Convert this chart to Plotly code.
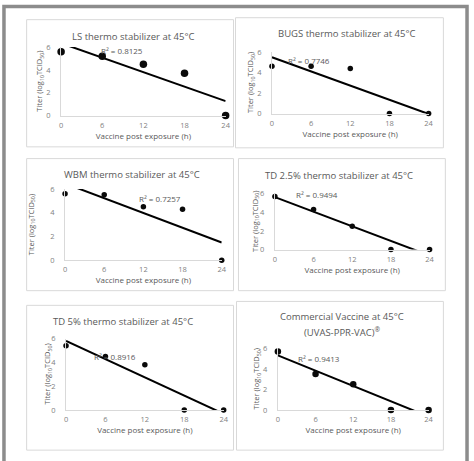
import numpy as np
import plotly.graph_objects as go

W, H = 474, 461

hours = [0, 6, 12, 18, 24]
ls_titer = [5.6, 5.2, 4.5, 3.7, 0.0]
bugs_titer = [4.6, 4.6, 4.4, 0.0, 0.0]
wbm_titer = [5.6, 5.5, 4.5, 4.3, 0.0]
td25_titer = [5.7, 4.3, 2.5, 0.0, 0.0]
td5_titer = [5.4, 4.5, 3.8, 0.0, 0.0]
comm_titer = [5.7, 3.5, 2.5, 0.0, 0.0]

titles = [
    ["LS thermo stabilizer at 45°C"],
    ["BUGS thermo stabilizer at 45°C"],
    ["WBM thermo stabilizer at 45°C"],
    ["TD 2.5% thermo stabilizer at 45°C"],
    ["TD 5% thermo stabilizer at 45°C"],
    ["Commercial Vaccine at 45°C", "(UVAS-PPR-VAC)<sup>®</sup>"],
]
r2_labels = ["R² = 0.8125", "R² = 0.7746", "R² = 0.7257", "R² = 0.9494", "R² = 0.8916", "R² = 0.9413"]
r2_pos = [(8.9, 5.66), (5.7, 5.14), (14.5, 5.18), (6.6, 5.95), (7.5, 4.52), (6.6, 5.05)]
x_ticks = [0, 6, 12, 18, 24]
y_ticks = [0, 2, 4, 6]
series = [ls_titer, bugs_titer, wbm_titer, td25_titer, td5_titer, comm_titer]

# layout geometry in pixels
plot_px = [  # x0, x1, ytop, ybottom
    (60, 227, 43, 113),
    (274, 433, 48, 111),
    (64, 223, 188, 261),
    (277, 434, 193, 250),
    (65, 225, 341, 414),
    (280, 433, 351, 414),
]
boxes = [(25, 15, 235, 145), (237, 13, 448, 146), (25, 157, 235, 292),
         (240, 157, 450, 292), (25, 307, 235, 455), (238, 303, 448, 455)]
title_px = [(133, [32]), (350, [29]), (132, [173]), (342, [174]), (123, [324]), (345, [318, 334])]
ytitle_x = [39, 253, 30, 257, 47, 259]
marker_sizes = [7.5, 5.5, 5.5, 5.5, 5.5, 6.5]

def px(x):
    return x / W

def py(y):
    return 1 - y / H

FONT = "Open Sans"
GRAY = "#595959"

fig = go.Figure()
layout = dict(width=W, height=H, margin=dict(l=0, r=0, t=0, b=0),
              paper_bgcolor="white", plot_bgcolor="white", showlegend=False,
              annotations=[], shapes=[])

for i, ys in enumerate(series):
    n = "" if i == 0 else str(i + 1)
    xa, ya = "x" + n, "y" + n
    m, b = np.polyfit(hours, ys, 1)
    fig.add_trace(go.Scatter(x=[hours[0], hours[-1]], y=[m * hours[0] + b, m * hours[-1] + b],
                             mode="lines", line=dict(color="black", width=2),
                             xaxis=xa, yaxis=ya, hoverinfo="skip"))
    fig.add_trace(go.Scatter(x=hours, y=ys, mode="markers",
                             marker=dict(color="#0a0a0a", size=marker_sizes[i]),
                             cliponaxis=False, xaxis=xa, yaxis=ya))
    x0, x1, yt, yb = plot_px[i]
    layout["xaxis" + n] = dict(domain=[px(x0), px(x1)], anchor=ya, range=[0, 24],
                               tickvals=x_ticks, showgrid=False, zeroline=False,
                               showline=True, linecolor="#d9d9d9", linewidth=1,
                               ticks="", ticklabelstandoff=2,
                               tickfont=dict(family=FONT, size=7.5, color="#7f7f7f"),
                               title=dict(text="Vaccine post exposure (h)", standoff=4,
                                          font=dict(family=FONT, size=8, color=GRAY)))
    layout["yaxis" + n] = dict(domain=[py(yb), py(yt)], anchor=xa, range=[0, 6],
                               tickvals=y_ticks, showgrid=False, zeroline=False,
                               showline=True, linecolor="#d9d9d9", linewidth=1,
                               ticks="", ticklabelstandoff=8,
                               tickfont=dict(family=FONT, size=7.5, color="#7f7f7f"))
    layout["annotations"].append(dict(text=r2_labels[i], x=r2_pos[i][0], y=r2_pos[i][1],
                                      xref=xa, yref=ya, showarrow=False,
                                      font=dict(family=FONT, size=8, color=GRAY)))
    tx, tys = title_px[i]
    for line_text, ty in zip(titles[i], tys):
        layout["annotations"].append(dict(text=line_text, x=px(tx), y=py(ty), xref="paper", yref="paper",
                                          showarrow=False, xanchor="center", yanchor="middle",
                                          font=dict(family=FONT, size=9.5, color=GRAY)))
    layout["annotations"].append(dict(text="Titer (log<sub>10</sub>TCID<sub>50</sub>)",
                                      x=px(ytitle_x[i]), y=py((yt + yb) / 2), xref="paper", yref="paper",
                                      textangle=-90, showarrow=False, xanchor="center", yanchor="middle",
                                      font=dict(family=FONT, size=7.5, color=GRAY)))
    bx0, by0, bx1, by1 = boxes[i]
    layout["shapes"].append(dict(type="rect", xref="paper", yref="paper",
                                 x0=px(bx0), x1=px(bx1), y0=py(by1), y1=py(by0),
                                 line=dict(color="#d9d9d9", width=1)))

# outer frame (bottom edge falls outside the picture)
layout["shapes"].append(dict(type="rect", xref="paper", yref="paper",
                             x0=px(2), x1=px(472), y0=py(475), y1=py(1.5),
                             line=dict(color="#8c8c8c", width=3.5)))

fig.update_layout(**layout)
fig.write_html("out.html", config={"displayModeBar": False},
               post_script="document.body.style.margin='0';document.body.style.overflow='hidden';")
